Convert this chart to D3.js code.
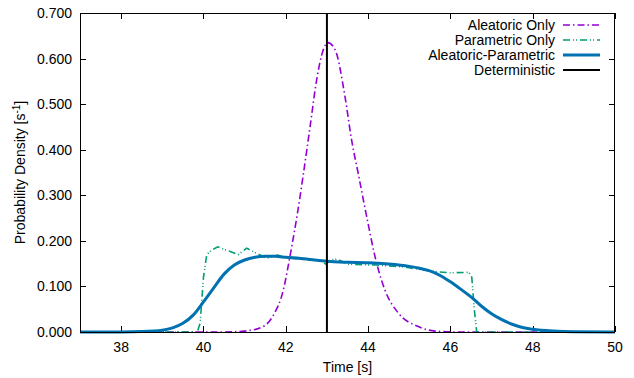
<!DOCTYPE html>
<html>
<head>
<meta charset="utf-8">
<script src="https://cdn.jsdelivr.net/npm/d3@7"></script>
<style>
  body { margin: 0; background: #fff; }
  svg text { font-family: "Liberation Sans", Arial, Helvetica, sans-serif; font-size: 14px; fill: #000; }
</style>
</head>
<body>
<svg id="chart" width="634" height="378"></svg>
<script>
// values
const xTicks = [38, 40, 42, 44, 46, 48, 50];
const yTicks = [0, 0.1, 0.2, 0.3, 0.4, 0.5, 0.6, 0.7];

const aleatoricT = [37, 40.5, 41, 41.45, 41.7, 41.94, 42.1, 42.27, 42.43, 42.59, 42.75, 42.91, 43.02, 43.2, 43.44, 43.6, 43.76, 44.0, 44.17, 44.41, 44.74, 45.22, 45.63, 46.2, 50];
const aleatoricP = [0, 0, 0.002, 0.012, 0.037, 0.092, 0.165, 0.253, 0.348, 0.450, 0.553, 0.619, 0.635, 0.619, 0.516, 0.421, 0.348, 0.238, 0.165, 0.092, 0.041, 0.012, 0.002, 0, 0];

const parametricT = [37, 39.85, 39.92, 40.0, 40.08, 40.2, 40.35, 40.6, 40.85, 41.05, 41.3, 41.55, 41.8, 42.1, 42.6, 42.85, 42.97, 43.1, 43.25, 43.5, 43.7, 44.2, 44.85, 45.35, 45.7, 46.0, 46.45, 46.52, 46.58, 46.64, 50];
const parametricP = [0, 0, 0.02, 0.12, 0.170, 0.180, 0.187, 0.178, 0.170, 0.184, 0.172, 0.162, 0.169, 0.162, 0.158, 0.156, 0.149, 0.158, 0.160, 0.149, 0.148, 0.147, 0.143, 0.136, 0.132, 0.130, 0.131, 0.12, 0.05, 0, 0];

const combinedT = [37, 38, 38.5, 39, 39.25, 39.5, 39.75, 40, 40.25, 40.5, 40.75, 41, 41.25, 41.5, 41.75, 42, 42.5, 43, 43.5, 44, 44.5, 45, 45.25, 45.5, 45.75, 46, 46.25, 46.5, 46.75, 47, 47.25, 47.5, 47.75, 48, 48.5, 49, 50];
const combinedP = [0, 0.0002, 0.001, 0.004, 0.009, 0.019, 0.037, 0.066, 0.097, 0.127, 0.147, 0.158, 0.164, 0.166, 0.166, 0.164, 0.160, 0.155, 0.153, 0.152, 0.149, 0.144, 0.140, 0.134, 0.124, 0.110, 0.094, 0.077, 0.057, 0.040, 0.027, 0.017, 0.010, 0.006, 0.002, 0.0005, 0];

const deterministicT = [43, 43];
const deterministicP = [0, 0.7];

const seriesNames = ['Aleatoric Only', 'Parametric Only', 'Aleatoric-Parametric', 'Deterministic'];

const margin = { left: 80, right: 19, top: 13, bottom: 46 };
const width = 634, height = 378;

const svg = d3.select('#chart');
const x = d3.scaleLinear().domain([37, 50]).range([margin.left, width - margin.right]);
const y = d3.scaleLinear().domain([0, 0.7]).range([height - margin.bottom, margin.top]);

const tickLen = 6;
const x0 = x.range()[0], x1 = x.range()[1];
const y0 = y.range()[0], y1 = y.range()[1];

// ticks, mirrored on all four sides
const ticksG = svg.append('g').attr('stroke', '#000').attr('stroke-width', 1);
xTicks.forEach(t => {
  const px = Math.round(x(t)) + 0.5;
  ticksG.append('line').attr('x1', px).attr('x2', px).attr('y1', y0).attr('y2', y0 - tickLen);
  ticksG.append('line').attr('x1', px).attr('x2', px).attr('y1', y1).attr('y2', y1 + tickLen);
});
yTicks.forEach(v => {
  const py = Math.round(y(v)) + 0.5;
  ticksG.append('line').attr('x1', x0).attr('x2', x0 + tickLen).attr('y1', py).attr('y2', py);
  ticksG.append('line').attr('x1', x1).attr('x2', x1 - tickLen).attr('y1', py).attr('y2', py);
});

// tick labels
svg.append('g').selectAll('text').data(xTicks).enter().append('text')
  .attr('x', d => x(d)).attr('y', y0 + 20)
  .attr('text-anchor', 'middle')
  .text(d => d);

const fmt = d3.format('.3f');
svg.append('g').selectAll('text').data(yTicks).enter().append('text')
  .attr('x', x0 - 8).attr('y', d => y(d) + 5)
  .attr('text-anchor', 'end')
  .text(d => fmt(d));

// axis titles
svg.append('text').attr('x', (x0 + x1) / 2).attr('y', height - 6)
  .attr('text-anchor', 'middle').text('Time [s]');

const yl = svg.append('text')
  .attr('transform', `translate(25,${(y0 + y1) / 2}) rotate(-90)`)
  .attr('text-anchor', 'middle');
yl.append('tspan').text('Probability Density [s');
yl.append('tspan').attr('dy', -5).attr('font-size', '10px').text('-1');
yl.append('tspan').attr('dy', 5).text(']');

// curves
const styles = [
  { t: aleatoricT, p: aleatoricP, color: '#9400D3', w: 1.6, dash: '7,3,1.5,3', curve: d3.curveMonotoneX },
  { t: parametricT, p: parametricP, color: '#009E73', w: 1.6, dash: '7,3,1,2,1,3', curve: d3.curveLinear },
  { t: combinedT, p: combinedP, color: '#0072B2', w: 3, dash: null, curve: d3.curveMonotoneX },
  { t: deterministicT, p: deterministicP, color: '#000000', w: 2, dash: null, curve: d3.curveLinear }
];

const plot = svg.append('g');
styles.forEach(s => {
  const pts = s.t.map((t, i) => [t, s.p[i]]);
  const line = d3.line().x(d => x(d[0])).y(d => y(d[1])).curve(s.curve);
  plot.append('path')
    .attr('d', line(pts))
    .attr('fill', 'none')
    .attr('stroke', s.color)
    .attr('stroke-width', s.w)
    .attr('stroke-dasharray', s.dash);
});

// frame
svg.append('rect')
  .attr('x', x0 + 0.5).attr('y', y1 + 0.5)
  .attr('width', x1 - x0 - 1).attr('height', y0 - y1)
  .attr('fill', 'none').attr('stroke', '#000').attr('stroke-width', 1);

// legend
const legend = svg.append('g');
styles.forEach((s, i) => {
  const ly = 25 + i * 15;
  legend.append('text').attr('x', 555).attr('y', ly + 4.5)
    .attr('font-size', '13px')
    .attr('text-anchor', 'end').text(seriesNames[i]);
  legend.append('line')
    .attr('x1', 563).attr('x2', 600).attr('y1', ly).attr('y2', ly)
    .attr('stroke', s.color)
    .attr('stroke-width', s.w)
    .attr('stroke-dasharray', s.dash);
});
</script>
</body>
</html>
